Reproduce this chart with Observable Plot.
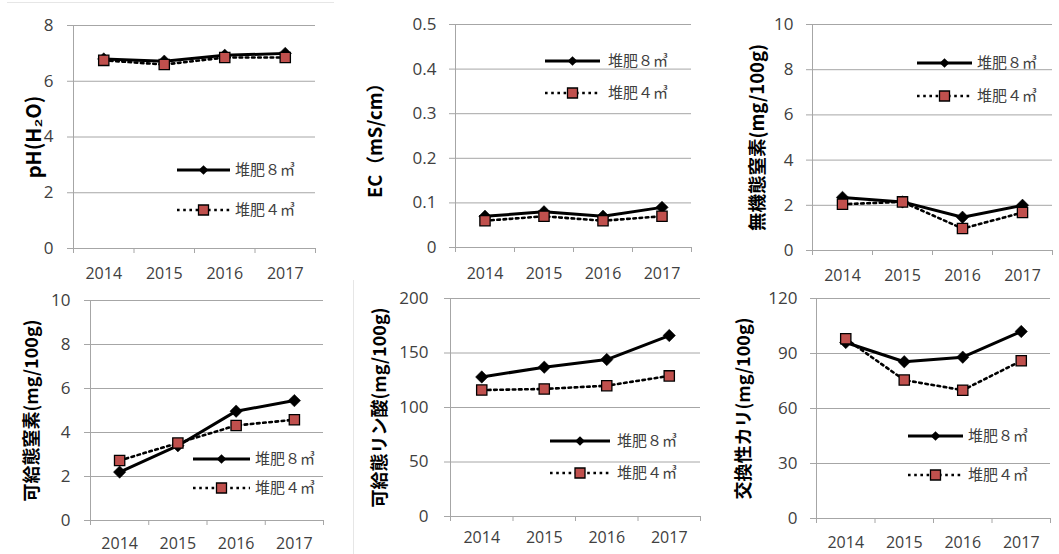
<!DOCTYPE html>
<html>
<head>
<meta charset="utf-8">
<script src="https://cdn.jsdelivr.net/npm/d3@7"></script>
<script src="https://cdn.jsdelivr.net/npm/@observablehq/plot@0.6"></script>
<style>
  html, body { margin: 0; padding: 0; background: #fff; }
  #root { position: relative; width: 1059px; height: 554px; overflow: hidden; background: #fff; }
  .panel { position: absolute; }
  .panel svg { display: block; }
  #legend { position: absolute; left: 0; top: 0; pointer-events: none; }
  .edge { position: absolute; background: #e6e6e6; }
</style>
</head>
<body>
<div id="root">
  <div class="edge" style="left:7px;top:2px;width:327px;height:1px;"></div>
  <div class="edge" style="left:353px;top:280px;width:1px;height:274px;"></div>
</div>
<script>
// ---------- data ----------
const years = ["2014", "2015", "2016", "2017"];
const seriesNames = ["堆肥８㎥", "堆肥４㎥"];

const ph8 = [6.8, 6.72, 6.93, 7.0];
const ph4 = [6.75, 6.6, 6.85, 6.85];
const ec8 = [0.07, 0.08, 0.07, 0.09];
const ec4 = [0.06, 0.07, 0.06, 0.07];
const inorgN8 = [2.35, 2.15, 1.47, 2.0];
const inorgN4 = [2.05, 2.15, 0.97, 1.68];
const availN8 = [2.2, 3.4, 4.97, 5.45];
const availN4 = [2.73, 3.52, 4.32, 4.58];
const availP8 = [128, 137, 144, 166];
const availP4 = [116, 117, 120, 129];
const exK8 = [96, 85.5, 88, 102];
const exK4 = [98, 75.5, 70, 86];

const ticksPh = [0, 2, 4, 6, 8];
const ticksEc = [0, 0.1, 0.2, 0.3, 0.4, 0.5];
const ticksN = [0, 2, 4, 6, 8, 10];
const ticksP = [0, 50, 100, 150, 200];
const ticksK = [0, 30, 60, 90, 120];

const titles = [
  "pH(H₂O)",
  "EC（mS/cm）",
  "無機態窒素(mg/100g)",
  "可給態窒素(mg/100g)",
  "可給態リン酸(mg/100g)",
  "交換性カリ(mg/100g)"
];

// ---------- layout (positions/styles only) ----------
const panels = [
  {s8: ph8, s4: ph4, ticks: ticksPh, title: titles[0], tfs: 20, left: 0, top: 0, ml: 73, mr: 38, mt: 25, mb: 29, tdx: -39, xpad: 19, ypad: 20,
   leg: {x1: 177, x2: 230, tx: 235, y1: 170, y2: 210}},
  {s8: ec8, s4: ec4, ticks: ticksEc, title: titles[1], tfs: 18.5, left: 353, top: 0, ml: 102, mr: 15, mt: 24, mb: 30, tdx: -79, xpad: 20, ypad: 19,
   leg: {x1: 545, x2: 600, tx: 608, y1: 61, y2: 93}},
  {s8: inorgN8, s4: inorgN4, ticks: ticksN, title: titles[2], tfs: 18.5, left: 706, top: 0, ml: 106, mr: 7, mt: 24, mb: 27, tdx: -54, xpad: 19, ypad: 19,
   leg: {x1: 917, x2: 972, tx: 977, y1: 63, y2: 96}},
  {s8: availN8, s4: availN4, ticks: ticksN, title: titles[3], tfs: 18, left: 0, top: 277, ml: 90, mr: 30, mt: 23, mb: 34, tdx: -58, xpad: 17, ypad: 20,
   leg: {x1: 193, x2: 250, tx: 255, y1: 459, y2: 488}},
  {s8: availP8, s4: availP4, ticks: ticksP, title: titles[4], tfs: 18, left: 353, top: 277, ml: 97, mr: 6, mt: 21, mb: 38, tdx: -70, xpad: 15, ypad: 22,
   leg: {x1: 550, x2: 610, tx: 617, y1: 441, y2: 473}},
  {s8: exK8, s4: exK4, ticks: ticksK, title: titles[5], tfs: 18, left: 706, top: 277, ml: 110, mr: 9, mt: 21, mb: 36, tdx: -72, xpad: 18, ypad: 19,
   leg: {x1: 908, x2: 963, tx: 968, y1: 436, y2: 475}}
];

const W = 353, H = 277;
const GRID = "#a6a6a6";
const TEXT = "#404040";
const RED = "#C0504D";
const root = document.getElementById("root");
const fmt = d3.format("~g");

const xPos = d => years.indexOf(d.year) + 0.5;
const bandEdges = d3.range(years.length + 1);
const bandCenters = years.map((y, i) => i + 0.5);

for (const p of panels) {
  const rows8 = years.map((year, i) => ({year, v: p.s8[i]}));
  const rows4 = years.map((year, i) => ({year, v: p.s4[i]}));
  const ymax = p.ticks[p.ticks.length - 1];
  const chart = Plot.plot({
    width: W,
    height: H,
    marginLeft: p.ml,
    marginRight: p.mr,
    marginTop: p.mt,
    marginBottom: p.mb,
    style: `font: 16px 'Open Sans', sans-serif; color: ${TEXT}; background: transparent; overflow: visible;`,
    x: {domain: [0, years.length]},
    y: {domain: [0, ymax]},
    marks: [
      Plot.gridY(p.ticks, {stroke: GRID, strokeOpacity: 1, strokeWidth: 1}),
      Plot.axisY({ticks: p.ticks, tickSize: 6, tickFormat: () => "", color: GRID, strokeOpacity: 1, label: null}),
      Plot.axisY({ticks: p.ticks, tickSize: 0, tickPadding: p.ypad, tickFormat: fmt, color: TEXT, label: null, fontSize: 17}),
      Plot.ruleX([0], {stroke: GRID, strokeWidth: 1}),
      Plot.ruleY([0], {stroke: GRID, strokeWidth: 1}),
      Plot.axisX({ticks: bandEdges, tickSize: 5, tickFormat: () => "", color: GRID, label: null}),
      Plot.axisX({ticks: bandCenters, tickSize: 0, tickPadding: p.xpad, tickFormat: d => years[Math.floor(d)], color: TEXT, label: null, fontSize: 16}),
      Plot.text([p.title], {frameAnchor: "left", rotate: -90, dx: p.tdx, fontSize: p.tfs, fontWeight: "bold", fill: "#000",
        fontFamily: "'Noto Sans CJK JP', sans-serif", lineAnchor: "middle", textAnchor: "middle"}),
      Plot.line(rows8, {x: xPos, y: "v", stroke: "#000", strokeWidth: 3}),
      Plot.line(rows4, {x: xPos, y: "v", stroke: "#000", strokeWidth: 2.6, strokeDasharray: "2.6,3.6"}),
      Plot.dot(rows8, {x: xPos, y: "v", symbol: "diamond2", r: 5.6, fill: "#000", stroke: "#000", strokeWidth: 0.5}),
      Plot.dot(rows4, {x: xPos, y: "v", symbol: "square", r: 5.8, fill: RED, stroke: "#000", strokeWidth: 1.3})
    ]
  });
  const div = document.createElement("div");
  div.className = "panel";
  div.style.left = p.left + "px";
  div.style.top = p.top + "px";
  div.appendChild(chart);
  root.appendChild(div);
}

// ---------- legends ----------
const leg = d3.select(root).append("svg")
  .attr("id", "legend")
  .attr("width", 1059)
  .attr("height", 554);

for (const p of panels) {
  const L = p.leg;
  const mid = (L.x1 + L.x2) / 2;
  leg.append("line").attr("x1", L.x1).attr("x2", L.x2).attr("y1", L.y1).attr("y2", L.y1)
    .attr("stroke", "#000").attr("stroke-width", 3);
  leg.append("path").attr("d", d3.symbol(d3.symbolDiamond2, 60)())
    .attr("transform", `translate(${mid},${L.y1})`).attr("fill", "#000");
  leg.append("text").attr("x", L.tx).attr("y", L.y1).attr("dy", "0.35em")
    .attr("fill", TEXT).attr("font-family", "'Noto Sans CJK JP', sans-serif").attr("font-size", 15)
    .text(seriesNames[0]);
  leg.append("line").attr("x1", L.x1).attr("x2", L.x2).attr("y1", L.y2).attr("y2", L.y2)
    .attr("stroke", "#000").attr("stroke-width", 2.6).attr("stroke-dasharray", "2.6,3.6");
  leg.append("path").attr("d", d3.symbol(d3.symbolSquare, 100)())
    .attr("transform", `translate(${mid},${L.y2})`).attr("fill", RED).attr("stroke", "#000").attr("stroke-width", 1.3);
  leg.append("text").attr("x", L.tx).attr("y", L.y2).attr("dy", "0.35em")
    .attr("fill", TEXT).attr("font-family", "'Noto Sans CJK JP', sans-serif").attr("font-size", 15)
    .text(seriesNames[1]);
}
</script>
</body>
</html>
